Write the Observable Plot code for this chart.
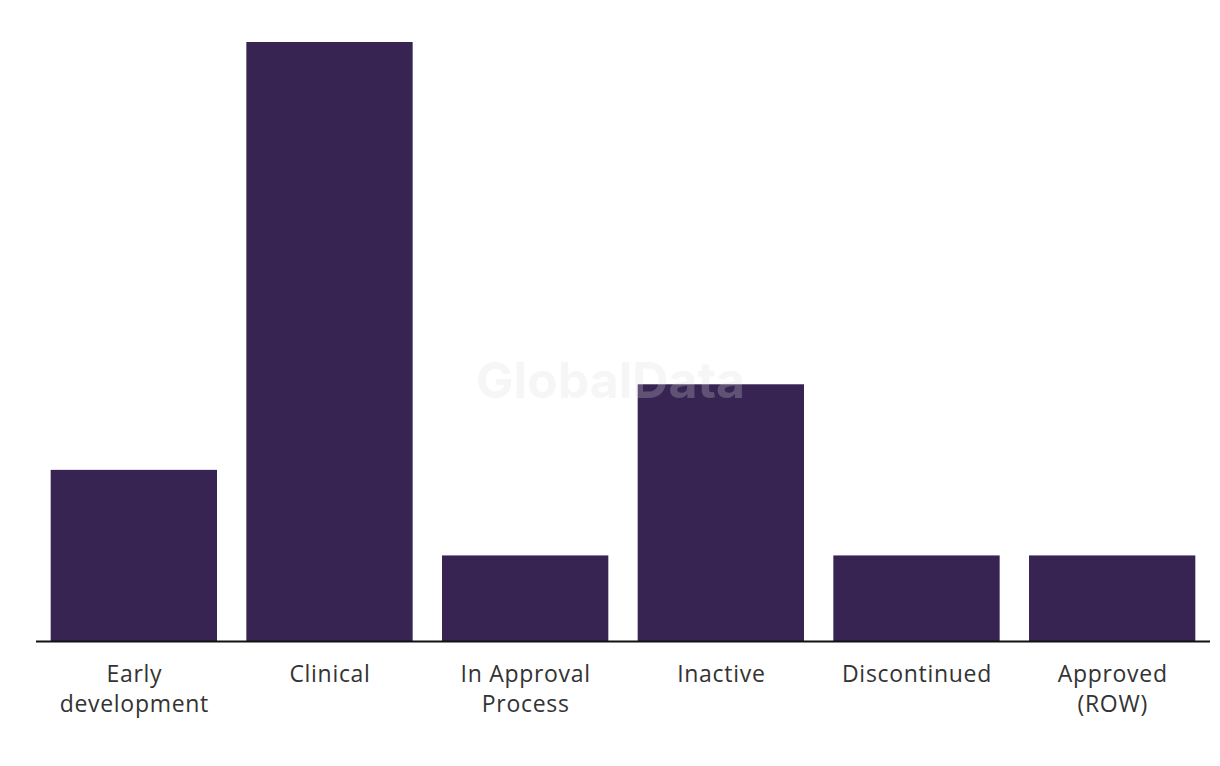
<!DOCTYPE html>
<html>
<head>
<meta charset="utf-8">
<script src="https://cdn.jsdelivr.net/npm/d3@7"></script>
<script src="https://cdn.jsdelivr.net/npm/@observablehq/plot@0.6"></script>
<style>
  html, body { margin: 0; padding: 0; background: #fff; }
  #chart { width: 1220px; height: 766px; }
  g[aria-label="x-axis tick label"] text { letter-spacing: 0.7px; }
</style>
</head>
<body>
<div id="chart"></div>
<script>
const categories = ["Early\ndevelopment", "Clinical", "In Approval\nProcess", "Inactive", "Discontinued", "Approved\n(ROW)"];
const counts = [2, 7, 1, 3, 1, 1];
const data = categories.map((c, i) => ({stage: c, count: counts[i]}));

const chart = Plot.plot({
  width: 1220,
  height: 766,
  marginTop: 42,
  marginBottom: 125,
  marginLeft: 36,
  marginRight: 10,
  style: {fontFamily: "'Open Sans', sans-serif", background: "#fff"},
  x: {domain: categories, paddingInner: 0.15, paddingOuter: 0.075, round: false, label: null},
  y: {domain: [0, 7], axis: null},
  marks: [
    Plot.barY(data, {x: "stage", y: "count", fill: "#372453"}),
    Plot.ruleY([0], {stroke: "#111", strokeWidth: 2}),
    Plot.axisX({tickSize: 0, tickPadding: 19, fontSize: 23, lineHeight: 1.3, fill: "#333", label: null}),
    Plot.text(["GlobalData"], {frameAnchor: "middle", dx: -13, dy: 40, fontSize: 50, fontWeight: "bold", fill: "#dcdcdc", fillOpacity: 0.25, fontFamily: "Inter, 'Noto Sans', sans-serif"})
  ]
});
document.getElementById("chart").appendChild(chart);
</script>
</body>
</html>
